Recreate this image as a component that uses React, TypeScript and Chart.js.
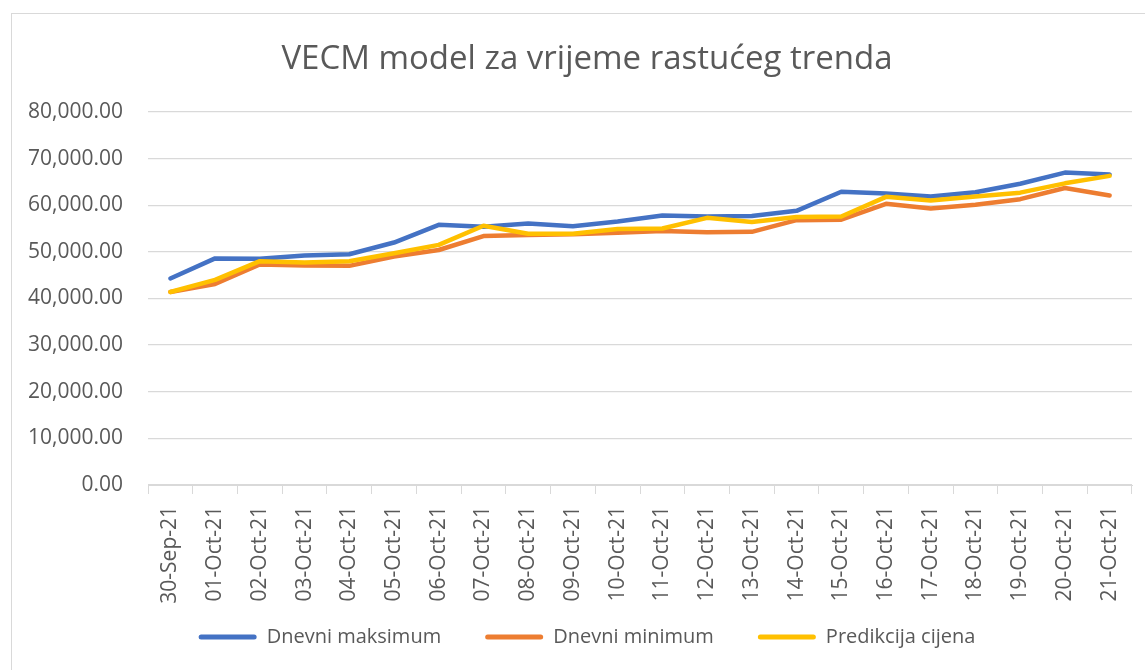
import React, { useEffect, useRef } from "react";
import { Chart, registerables } from "chart.js";

Chart.register(...registerables);

const categories = [
  "30-Sep-21", "01-Oct-21", "02-Oct-21", "03-Oct-21", "04-Oct-21", "05-Oct-21",
  "06-Oct-21", "07-Oct-21", "08-Oct-21", "09-Oct-21", "10-Oct-21", "11-Oct-21",
  "12-Oct-21", "13-Oct-21", "14-Oct-21", "15-Oct-21", "16-Oct-21", "17-Oct-21",
  "18-Oct-21", "19-Oct-21", "20-Oct-21", "21-Oct-21",
];

const dnevniMaksimum = [
  44300, 48600, 48500, 49200, 49500, 52000, 55800, 55400, 56100, 55500, 56500,
  57800, 57600, 57700, 58800, 62900, 62500, 61900, 62800, 64600, 67000, 66600,
];

const dnevniMinimum = [
  41400, 43100, 47300, 47100, 47000, 49000, 50400, 53400, 53600, 53800, 54100,
  54500, 54200, 54300, 56800, 56900, 60300, 59300, 60100, 61300, 63700, 62100,
];

const predikcijaCijena = [
  41400, 44000, 48000, 47700, 48000, 49700, 51500, 55600, 53900, 53900, 54900,
  55000, 57300, 56400, 57500, 57600, 61800, 61000, 61900, 62700, 64700, 66300,
];

const seriesNames = ["Dnevni maksimum", "Dnevni minimum", "Predikcija cijena"];
const titleText = "VECM model za vrijeme rastućeg trenda";
const yMin = 0;
const yMax = 80000;
const yStep = 10000;

const TEXT = "#595959";
const GRID = "#d9d9d9";
const FONT = "'Open Sans', sans-serif";

export default function App() {
  const ref = useRef<HTMLCanvasElement | null>(null);

  useEffect(() => {
    if (!ref.current) return;
    const mk = (label: string, data: number[], color: string, order: number) => ({
      label,
      data,
      borderColor: color,
      backgroundColor: color,
      borderWidth: 4.5,
      pointRadius: 0,
      pointHoverRadius: 0,
      tension: 0,
      borderCapStyle: "round" as const,
      borderJoinStyle: "round" as const,
      order,
    });
    const chart = new Chart(ref.current, {
      type: "line",
      data: {
        labels: categories,
        datasets: [
          mk(seriesNames[0], dnevniMaksimum, "#4472C4", 3),
          mk(seriesNames[1], dnevniMinimum, "#ED7D31", 2),
          mk(seriesNames[2], predikcijaCijena, "#FFC000", 1),
        ],
      },
      options: {
        responsive: false,
        animation: false,
        layout: { padding: { left: 30, right: 32, top: 0, bottom: 13 } },
        plugins: {
          tooltip: { enabled: false },
          title: {
            display: true,
            text: titleText,
            color: TEXT,
            font: { family: FONT, size: 33, weight: "normal" },
            padding: { top: 26, bottom: 32.4 },
          },
          legend: {
            display: true,
            position: "bottom",
            labels: {
              color: TEXT,
              font: { family: FONT, size: 20 },
              boxWidth: 58,
              boxHeight: 5,
              padding: 44,
              sort: (a: any, b: any) => a.datasetIndex - b.datasetIndex,
              generateLabels: (c: any) =>
                (Chart.defaults.plugins.legend.labels.generateLabels as any)(c).map((l: any) => ({
                  ...l,
                  lineWidth: 0,
                  borderRadius: 2.5,
                })),
            },
          },
        },
        scales: {
          x: {
            offset: true,
            grid: {
              display: true,
              offset: true,
              drawOnChartArea: false,
              drawTicks: true,
              tickLength: 9,
              color: GRID,
            },
            border: { display: true, color: GRID, width: 1 },
            ticks: {
              color: TEXT,
              font: { family: FONT, size: 21 },
              minRotation: 90,
              maxRotation: 90,
              padding: 12,
              autoSkip: false,
            },
            afterFit: (scale: any) => {
              scale.height = 98;
              // let the rotated labels run below the shortened axis box
              scale._computeLabelArea = () => undefined;
            },
          },
          y: {
            min: yMin,
            max: yMax,
            grid: { color: GRID, lineWidth: 1.3, drawTicks: false },
            border: { display: false },
            ticks: {
              stepSize: yStep,
              color: TEXT,
              font: { family: FONT, size: 21 },
              padding: 25,
              callback: (v: any) =>
                Number(v).toLocaleString("en-US", {
                  minimumFractionDigits: 2,
                  maximumFractionDigits: 2,
                }),
            },
            afterFit: (scale: any) => {
              scale.width = 106;
              scale._computeLabelArea = () => undefined;
            },
          },
        },
      },
    });
    return () => chart.destroy();
  }, []);

  return (
    <div
      style={{
        position: "fixed",
        left: 11,
        top: 13,
        width: 1152,
        height: 660,
        border: `1px solid ${GRID}`,
        background: "#fff",
      }}
    >
      <canvas ref={ref} width={1152} height={656} style={{ display: "block" }} />
    </div>
  );
}
